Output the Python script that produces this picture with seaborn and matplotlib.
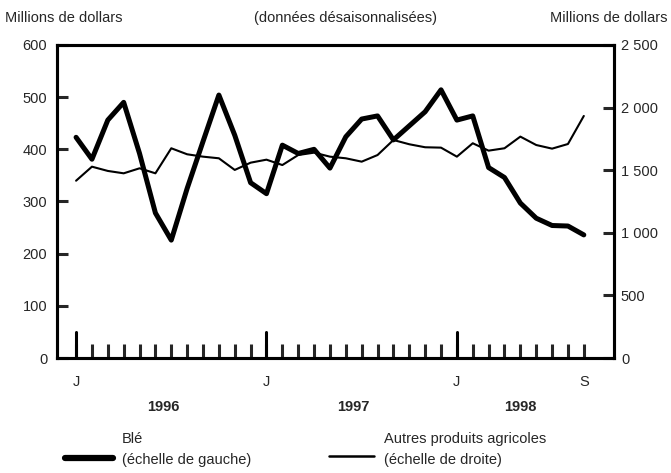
import numpy as np
import pandas as pd
import matplotlib
matplotlib.use('Agg')
import matplotlib.pyplot as plt
from matplotlib.lines import Line2D
import seaborn as sns

# mois depuis janvier 1996 (0 = J 1996, 32 = S 1998)
months = list(range(33))
ble = [423, 381, 456, 490, 392, 278, 226, 325, 415, 504, 427, 336,
       315, 408, 392, 400, 364, 424, 458, 464, 418, 445, 472, 514,
       456, 464, 365, 346, 297, 268, 254, 253, 236]
autres = [1416, 1528, 1494, 1475, 1515, 1475, 1675, 1627, 1608, 1595, 1502, 1560,
          1584, 1541, 1621, 1640, 1608, 1595, 1568, 1621, 1741, 1707, 1683, 1680,
          1608, 1715, 1656, 1675, 1768, 1701, 1672, 1709, 1933]
month_ticks = [0, 12, 24, 32]
month_labels = ['J', 'J', 'J', 'S']
years = ['1996', '1997', '1998']
year_pos = [5.5, 17.5, 28]
left_ticks = [0, 100, 200, 300, 400, 500, 600]
right_ticks = [0, 500, 1000, 1500, 2000, 2500]
right_labels = ['0', '500', '1 000', '1 500', '2 000', '2 500']

df = pd.DataFrame({'mois': months, 'ble': ble, 'autres': autres})

sns.set_style('white')
plt.rcParams['font.family'] = ['Liberation Sans', 'DejaVu Sans']
fs = 10.5

fig = plt.figure(figsize=(6.71, 4.73), dpi=100)
ax = fig.add_axes([0.085, 0.243, 0.83, 0.662])
ax2 = ax.twinx()

sns.lineplot(data=df, x='mois', y='autres', ax=ax2, color='black', linewidth=1.5)
sns.lineplot(data=df, x='mois', y='ble', ax=ax, color='black', linewidth=3.6)
ax.set_zorder(ax2.get_zorder() + 1)
ax.patch.set_visible(False)

ax.set_xlim(-1.2, 33.9)
ax.set_ylim(0, 600)
ax2.set_ylim(0, 2500)
ax.set_xlabel('')
ax.set_ylabel('')
ax2.set_ylabel('')

for a in (ax, ax2):
    for s in a.spines.values():
        s.set_visible(True)
        s.set_linewidth(2.2)
        s.set_color('black')

ax.set_yticks(left_ticks)
ax.tick_params(axis='y', direction='in', length=8, width=2.2, pad=7,
               labelsize=fs, left=True, right=False)
ax2.set_yticks(right_ticks)
ax2.set_yticklabels(right_labels)
ax2.tick_params(axis='y', direction='in', length=8, width=2.2, pad=5,
                labelsize=fs, right=True, left=False)

ax.set_xticks(month_ticks)
ax.set_xticklabels(month_labels)
ax.set_xticks(months, minor=True)
ax.tick_params(axis='x', which='major', direction='in', length=10, width=2.2, pad=12,
               labelsize=fs, bottom=True)
ax.tick_params(axis='x', which='minor', direction='in', length=10, width=2.2,
               bottom=True)
# grands traits de janvier
for m in [0, 12, 24]:
    ax.axvline(m, ymin=0, ymax=26 / 313, color='black', linewidth=2.2)

for y, p in zip(years, year_pos):
    ax.text(p, -0.155, y, transform=ax.get_xaxis_transform(), ha='center',
            va='center', fontsize=fs, fontweight='bold')

fig.text(0.007, 0.962, 'Millions de dollars', ha='left', va='center', fontsize=fs)
fig.text(0.515, 0.962, '(données désaisonnalisées)', ha='center', va='center', fontsize=fs)
fig.text(0.995, 0.962, 'Millions de dollars', ha='right', va='center', fontsize=fs)

# légende
fig.add_artist(Line2D([0.097, 0.168], [0.032, 0.032], color='black', linewidth=4.5))
fig.text(0.182, 0.072, 'Blé', ha='left', va='center', fontsize=fs)
fig.text(0.182, 0.028, '(échelle de gauche)', ha='left', va='center', fontsize=fs)
fig.add_artist(Line2D([0.49, 0.558], [0.036, 0.036], color='black', linewidth=1.8))
fig.text(0.573, 0.072, 'Autres produits agricoles', ha='left', va='center', fontsize=fs)
fig.text(0.573, 0.028, '(échelle de droite)', ha='left', va='center', fontsize=fs)

fig.savefig('out.png', dpi=100)
